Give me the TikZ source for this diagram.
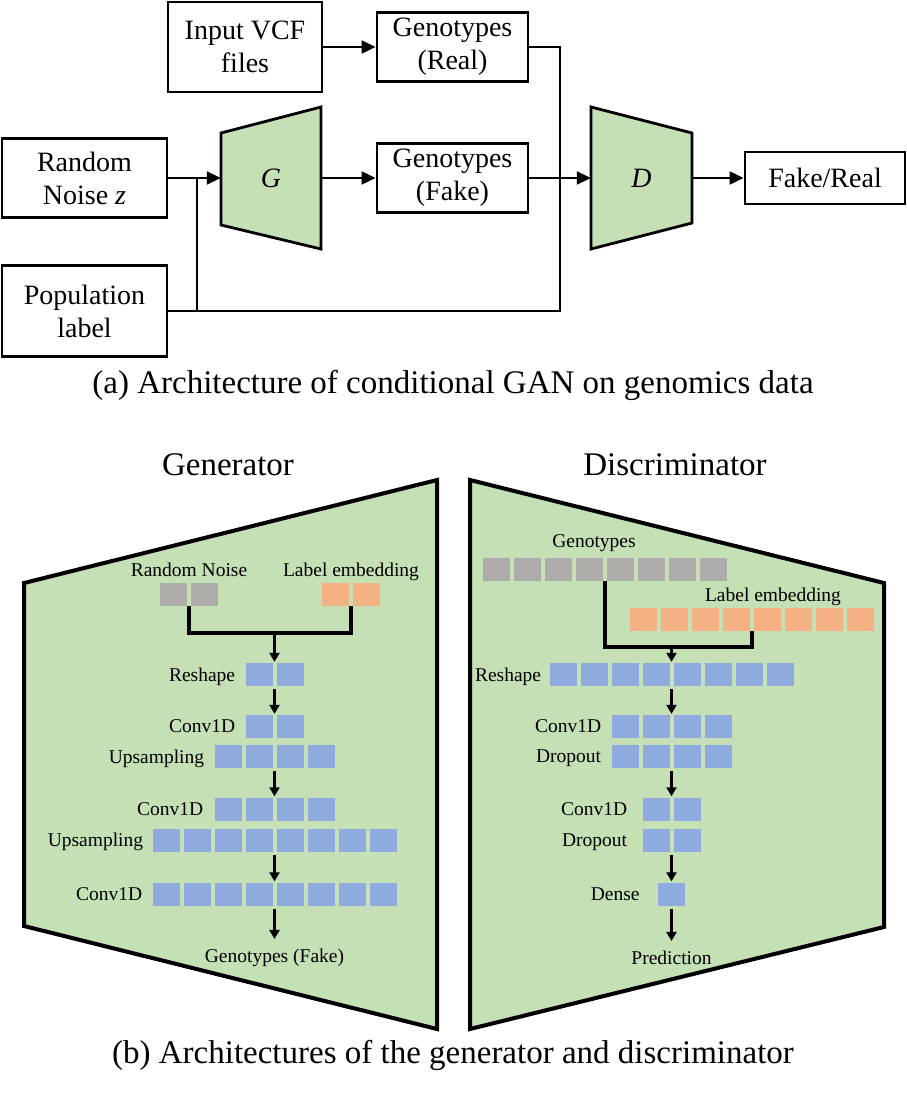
\documentclass[tikz,border=0pt]{standalone}
\usepackage{fontspec}
\setmainfont{Liberation Serif}
\usetikzlibrary{arrows.meta,positioning,calc}

\definecolor{gangreen}{HTML}{C5E0B4}
\definecolor{cellgrey}{HTML}{AEABAB}
\definecolor{cellorange}{HTML}{F4B183}
\definecolor{cellblue}{HTML}{8FAADC}

\tikzset{
  block/.style={draw=black, line width=2.8pt, align=center, inner sep=0pt,
    font=\fontsize{28}{33}\selectfont},
  netshape/.style={draw=black, line width=2.8pt, fill=gangreen},
  bigshape/.style={draw=black, line width=4pt, fill=gangreen},
  link/.style={line width=2pt},
  flow/.style={line width=2pt, -{Triangle[length=14pt,width=13pt]}},
  cell/.style={minimum width=27pt, minimum height=23pt, inner sep=0pt},
  layer/.style={font=\fontsize{19.5}{22}\selectfont, inner sep=0pt},
  wire/.style={line width=3.5pt},
  pass/.style={line width=3.5pt, -{Triangle[length=9pt,width=10pt]}, shorten <=3pt, shorten >=1pt},
  heading/.style={font=\fontsize{33}{37}\selectfont, inner sep=0pt},
}

\begin{document}
\begin{tikzpicture}[x=1pt,y=-1pt]
\useasboundingbox (0,0) rectangle (907,1100);

% (a) conditional GAN
\node[block, minimum width=154pt, minimum height=90pt] (vcf) at (245,47) {Input VCF\\files};
\node[block, minimum width=151pt, minimum height=69pt] (real) at (452.5,47) {Genotypes\\(Real)};
\node[block, minimum width=151pt, minimum height=69pt] (fake) at (452.5,178) {Genotypes\\(Fake)};
\node[block, minimum width=165pt, minimum height=79pt] (noise) at (84.5,178) {Random\\Noise \textit{z}};
\node[block, minimum width=165pt, minimum height=91pt] (pop) at (84.5,311) {Population\\label};
\node[block, minimum width=160pt, minimum height=52pt] (verdict) at (825,178) {Fake/Real};

\draw[netshape] (221,133) -- (321,107) -- (321,249) -- (221,225) -- cycle;
\node[minimum width=100pt, font=\fontsize{28}{33}\selectfont] (G) at (271,178) {\textit{G}};
\draw[netshape] (591,107) -- (692,133) -- (692,223) -- (591,249) -- cycle;
\node[minimum width=101pt, font=\fontsize{28}{33}\selectfont] (D) at (641.5,178) {\textit{D}};

\coordinate (tap) at (197,0);
\coordinate (bus) at (560,0);
\draw[flow] (vcf.east) -- (real.west);
\draw[flow] (noise.east) -- (G.west);
\draw[flow] (G.east) -- (fake.west);
\draw[flow] (fake.east) -- (D.west);
\draw[flow] (D.east) -- (verdict.west);
\draw[link] (real.east) -| (bus |- pop.east) -- (pop.east);
\draw[link] (noise.east -| tap) -- (tap |- pop.east);

\node[heading] (capa) at (453,385) {(a) Architecture of conditional GAN on genomics data};

% (b) generator and discriminator
\draw[bigshape] (24,583) -- (437,480) -- (437,1029) -- (24,926) -- cycle;
\draw[bigshape] (470,480) -- (884,583) -- (884,927) -- (470,1029) -- cycle;
\node[heading] (gtitle) at (228,465) {Generator};
\node[heading] (dtitle) at (675,465) {Discriminator};

\foreach \row/\n/\cx/\cy/\col in {gnoise/2/189/594.5/cellgrey, glabel/2/351/594.5/cellorange,
    gres/2/274.5/674.5/cellblue, gconvA/2/274.5/726.5/cellblue, gupA/4/274.5/756.5/cellblue,
    gconvB/4/274.5/809/cellblue, gupB/8/274.5/840/cellblue, gconvC/8/274.5/894/cellblue,
    dgeno/8/605/569/cellgrey, dlabel/8/752/619/cellorange,
    dres/8/671.5/674.5/cellblue, dconvA/4/671.5/726.5/cellblue, ddropA/4/671.5/756.5/cellblue,
    dconvB/2/671.5/809/cellblue, ddropB/2/671.5/840/cellblue, ddense/1/671.5/894/cellblue}
  \foreach \i in {1,...,\n}
    \node[cell, fill=\col] (\row\i) at ({\cx+(\i-(\n+1)/2)*31},\cy) {};

% generator labels
\node[layer] (gnoisel) at (189,570) {Random Noise};
\node[layer] (glabell) at (351,572) {Label embedding};
\node[layer, left=10pt of gres1, yshift=-2pt] (gresl) {Reshape};
\node[layer, left=10pt of gconvA1] (gconvAl) {Conv1D};
\node[layer, left=10pt of gupA1, yshift=-2pt] (gupAl) {Upsampling};
\node[layer, left=11pt of gconvB1] (gconvBl) {Conv1D};
\node[layer, left=9pt of gupB1, yshift=-2pt] (gupBl) {Upsampling};
\node[layer, left=10pt of gconvC1] (gconvCl) {Conv1D};
\node[layer] (gout) at (274.5,958) {Genotypes (Fake)};

% discriminator labels
\node[layer] (dgenol) at (594,543) {Genotypes};
\node[layer] (dlabell) at (773,597) {Label embedding};
\node[layer, left=8pt of dres1, yshift=-2pt] (dresl) {Reshape};
\node[layer, left=10pt of dconvA1] (dconvAl) {Conv1D};
\node[layer, left=10pt of ddropA1, yshift=-2pt] (ddropAl) {Dropout};
\node[layer, left=15pt of dconvB1] (dconvBl) {Conv1D};
\node[layer, left=15pt of ddropB1, yshift=-2pt] (ddropBl) {Dropout};
\node[layer, left=18pt of ddense1] (ddensel) {Dense};
\node[layer] (dout) at (671.5,958) {Prediction};

% generator flow
\coordinate (gjoin) at (274.5,633);
\draw[wire] ($(gnoise1.south)!.5!(gnoise2.south)$) |- (gjoin) -| ($(glabel1.south)!.5!(glabel2.south)$);
\draw[pass, shorten <=0pt] (gjoin) -- ($(gres1.north)!.5!(gres2.north)$);
\draw[pass] ($(gres1.south)!.5!(gres2.south)$) -- ($(gconvA1.north)!.5!(gconvA2.north)$);
\draw[pass] ($(gupA2.south)!.5!(gupA3.south)$) -- ($(gconvB2.north)!.5!(gconvB3.north)$);
\draw[pass] ($(gupB4.south)!.5!(gupB5.south)$) -- ($(gconvC4.north)!.5!(gconvC5.north)$);
\draw[pass, shorten >=10pt] ($(gconvC4.south)!.5!(gconvC5.south)$) -- (gout.north);

% discriminator flow
\coordinate (djoin) at (671.5,647);
\draw[wire] ($(dgeno4.south)!.5!(dgeno5.south)$) |- (djoin) -| ($(dlabel4.south)!.5!(dlabel5.south)$);
\draw[pass, shorten <=0pt] (djoin) -- ($(dres4.north)!.5!(dres5.north)$);
\draw[pass] ($(dres4.south)!.5!(dres5.south)$) -- ($(dconvA2.north)!.5!(dconvA3.north)$);
\draw[pass] ($(ddropA2.south)!.5!(ddropA3.south)$) -- ($(dconvB1.north)!.5!(dconvB2.north)$);
\draw[pass] ($(ddropB1.south)!.5!(ddropB2.south)$) -- (ddense1.north);
\draw[pass, shorten >=10pt] (ddense1.south) -- (dout.north);

\node[heading] (capb) at (453,1055) {(b) Architectures of the generator and discriminator};
\end{tikzpicture}
\end{document}
